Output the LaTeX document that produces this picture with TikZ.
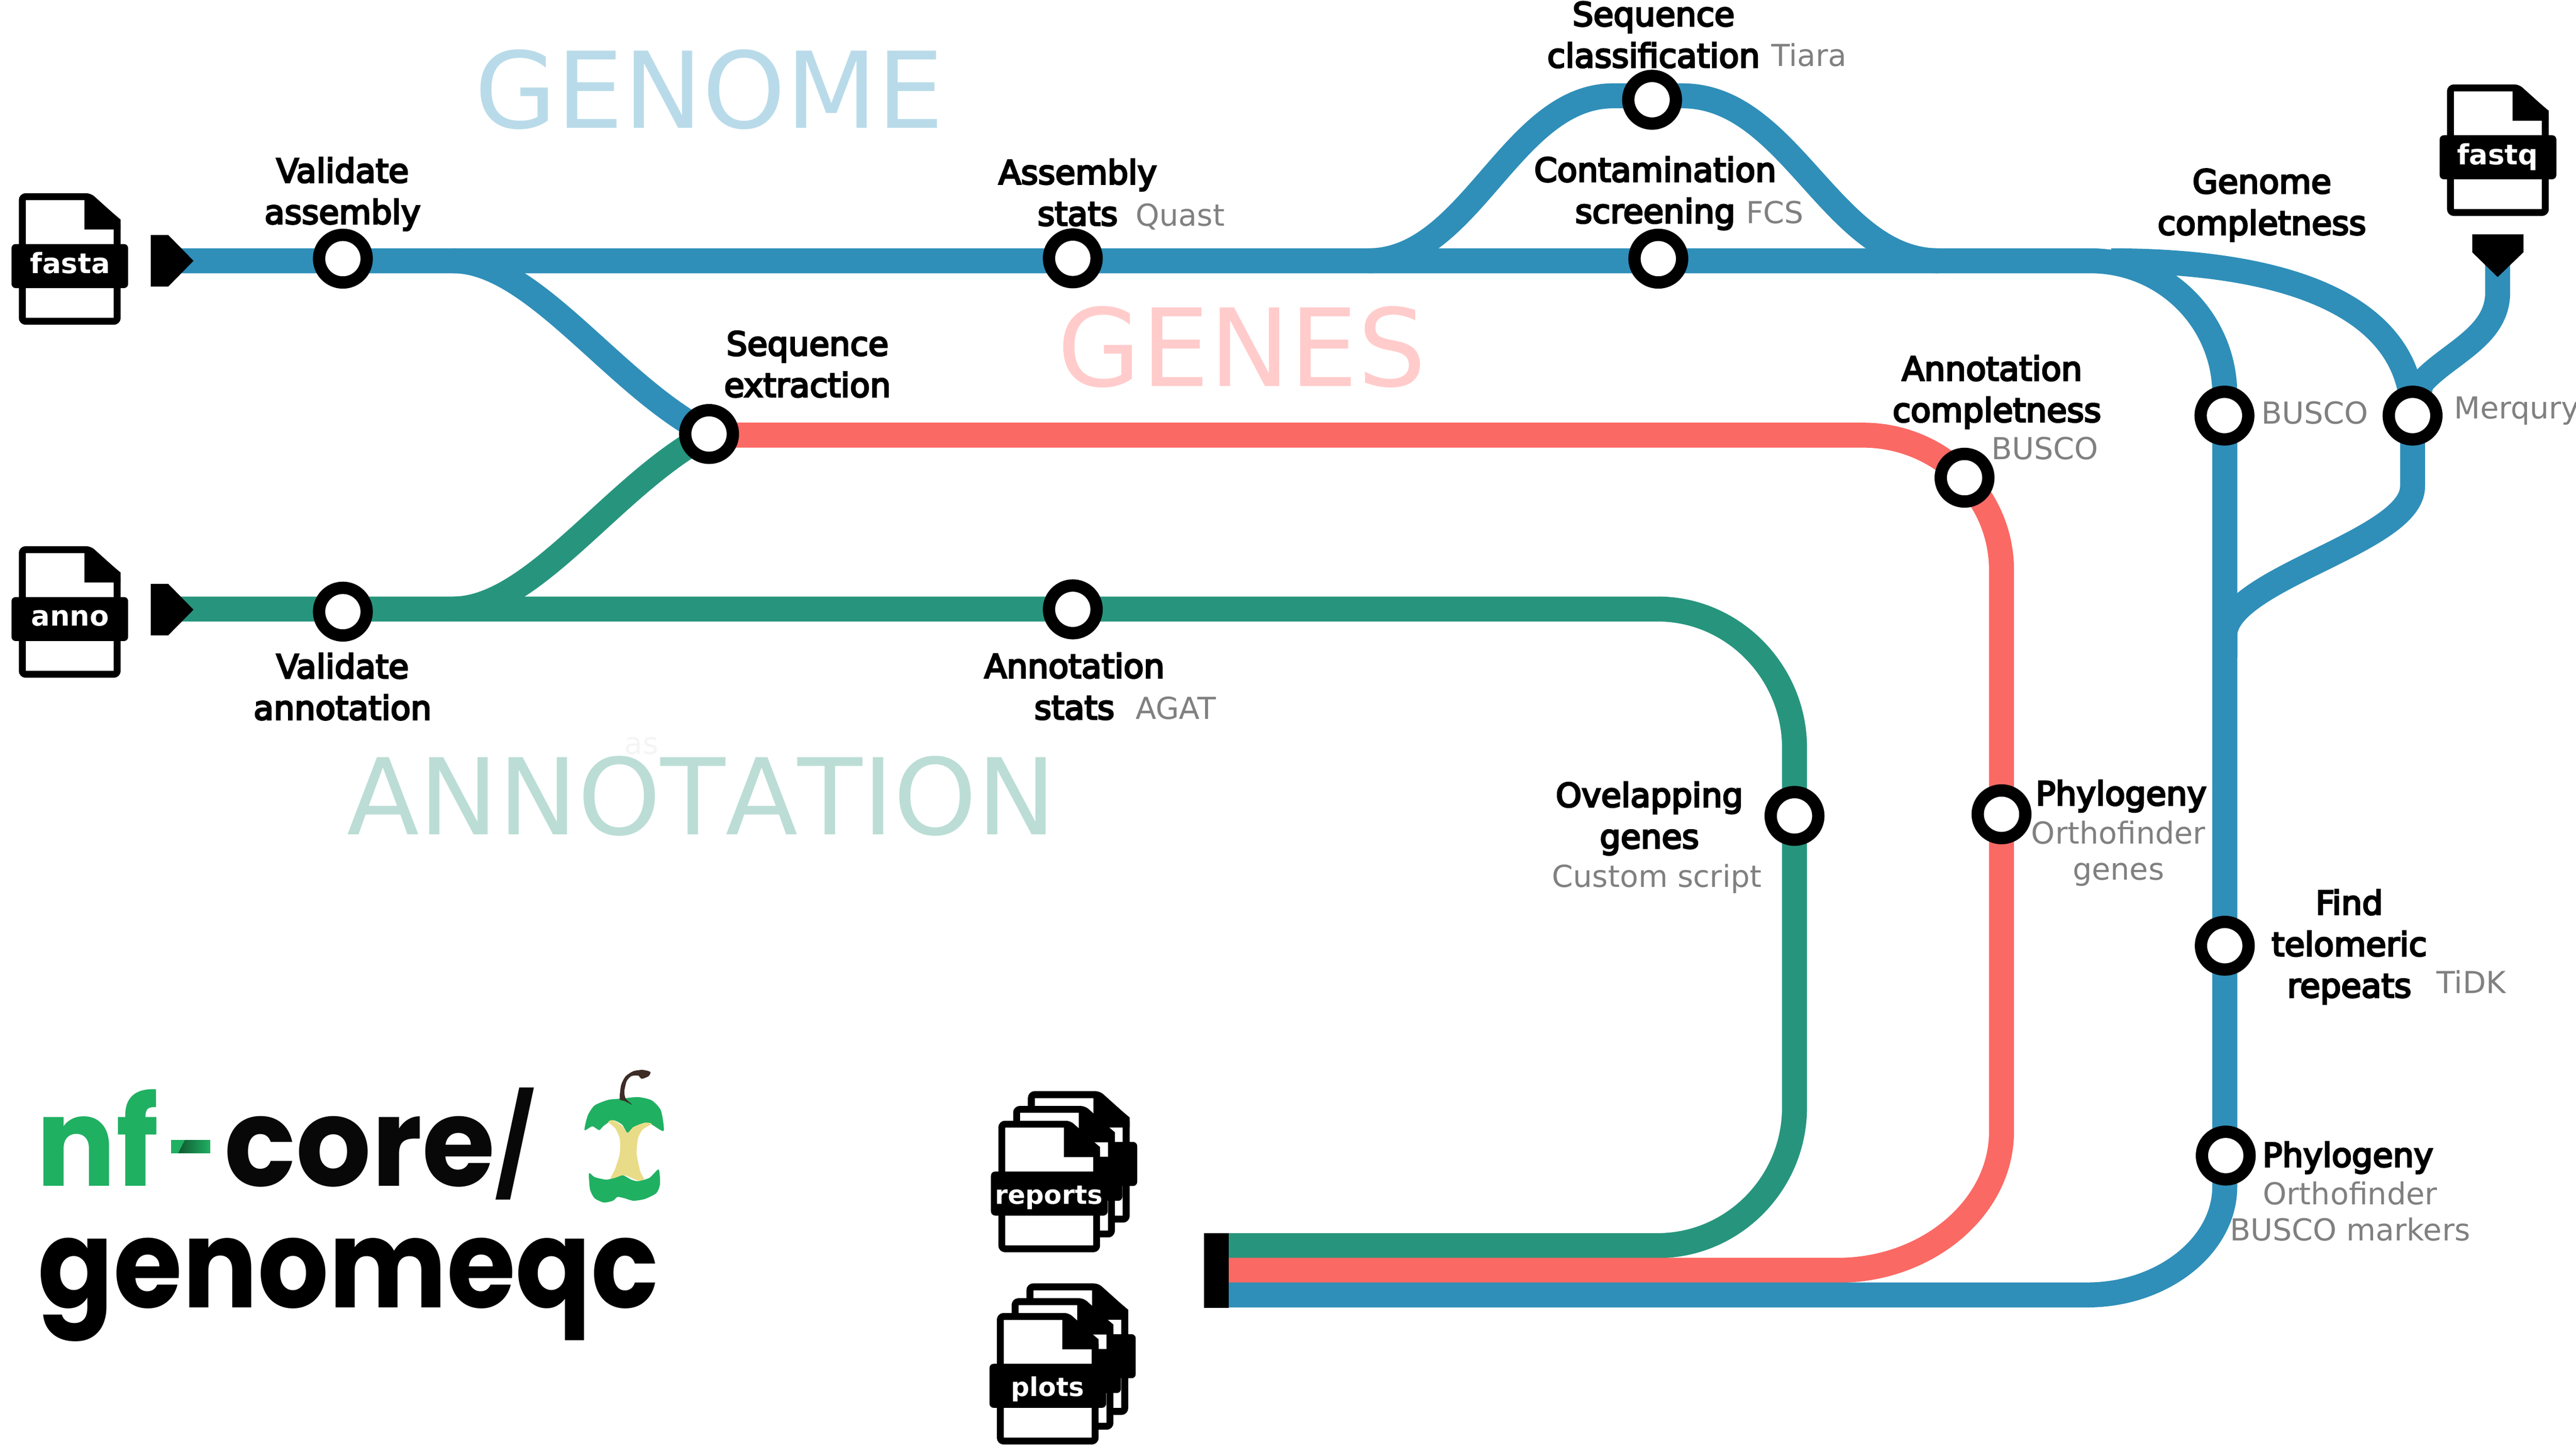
\documentclass[tikz,border=0pt]{standalone}
\usepackage{fontspec}
\usepackage{graphicx}
\usetikzlibrary{backgrounds}
\setmainfont{DejaVu Sans}
\newfontfamily\lblf[FakeBold=5]{DejaVu Sans}
\newfontfamily\bigf[Kerning=Off]{DejaVu Sans}
\newfontfamily\logof{Poppins}
\definecolor{tblue}{HTML}{2F8FB9}
\definecolor{tgreen}{HTML}{27957D}
\definecolor{tred}{HTML}{FB6964}
\definecolor{lblue}{HTML}{B9DBE9}
\definecolor{lgreen}{HTML}{BBDDD5}
\definecolor{lred}{HTML}{FFCCCB}
\definecolor{nfgreen}{HTML}{20B062}
\definecolor{corey}{HTML}{E9DC88}
\definecolor{stemc}{HTML}{3E2C27}
\tikzset{
  track/.style={line width=15.2pt,line cap=butt,line join=round},
  stn/.style={circle,draw=black,line width=7.5pt,fill=white,minimum size=29pt,inner sep=0pt},
  lbl/.style={anchor=base,align=center,inner sep=0pt,font=\lblf\fontsize{20}{25.2}\selectfont},
  tool/.style={anchor=base,align=center,inner sep=0pt,text=gray,font=\fontsize{18.4}{22}\selectfont},
  toolw/.style={tool,anchor=base west},
  lblw/.style={lbl,anchor=base west},
  bigt/.style={anchor=base,inner sep=0pt,font=\bigf\fontsize{64.4}{64}\selectfont},
  ftxt/.style={anchor=base,inner sep=0pt,text=white,font=\bfseries\fontsize{17}{17}\selectfont},
  mtxt/.style={ftxt,font=\bfseries\fontsize{15.8}{16}\selectfont},
  logot/.style={anchor=base west,inner sep=0pt,font=\logof\bfseries\fontsize{75}{75}\selectfont},
  pics/fileicon/.style={code={
    \filldraw[fill=white,draw=black,line width=4.2pt,rounded corners=2pt]
      (2.1,2.1) -- (43,2.1) -- (59.8,17.2) -- (59.8,77.9) -- (2.1,77.9) -- cycle;
    \fill[black] (39.9,2.1) -- (43.2,0.5) -- (61.9,16) -- (61.9,22.1) -- (39.9,22.1) -- cycle;
    \fill[black,rounded corners=2.5pt] (-4.5,30.9) rectangle (66.5,57.7);
  }}
}
\begin{document}
\begin{tikzpicture}[x=1pt,y=-1pt]
\useasboundingbox (0,0) rectangle (1568,879.2);

% stations
\node[stn] (vasm) at (208.7,157.4) {};
\node[stn] (vann) at (208.7,372.2) {};
\node[stn] (astat) at (653,157.2) {};
\node[stn] (anstat) at (653,370.8) {};
\node[stn] (seqx) at (431.6,264.1) {};
\node[stn] (seqc) at (1005.6,60.7) {};
\node[stn] (cont) at (1009.4,157.4) {};
\node[stn] (anncomp) at (1195.8,290.7) {};
\node[stn] (ovl) at (1092.3,496.5) {};
\node[stn] (phyg) at (1218.3,495.5) {};
\node[stn] (busco) at (1354,252.9) {};
\node[stn] (merq) at (1468.5,252.9) {};
\node[stn] (telo) at (1354.2,575.5) {};
\node[stn] (phyb) at (1354.8,703.2) {};

% named points of the tracks
\coordinate (fs) at (110,158.7);
\coordinate (as) at (110,370.6);
\coordinate (qs) at (1520.3,160);
\coordinate (eg) at (748,758);
\coordinate (er) at (748,773);
\coordinate (eb) at (748,788);
\coordinate (bj) at (1354.2,386.8);
\coordinate (j1) at (276,158.7);
\coordinate (j2) at (276,370.6);

\begin{pgfonlayer}{background}
% green
\draw[track,tgreen] (as) -- (j2) -- (1009,370.6) .. controls (1055,370.6) and (1092.3,409) .. (1092.3,455)
  -- (ovl.center) -- (1092.3,674) .. controls (1092.3,720) and (1055,758) .. (1009,758) -- (eg);
\draw[track,tgreen] (j2) .. controls (325,370.6) and (375,293) .. (seqx.center);
% red
\draw[track,tred] (seqx.center) -- (431.6,264.8) -- (1134,264.8) .. controls (1180,264.8) and (1218.3,301) .. (1218.3,347)
  -- (1218.3,688.6) .. controls (1218.3,735) and (1173,773) .. (1118.7,773) -- (er);
% blue
\draw[track,tblue] (fs) -- (1272.5,158.7) .. controls (1317.7,158.7) and (1354.2,195) .. (1354.2,240)
  -- (1354.2,722) .. controls (1354.2,758.3) and (1316,788) .. (1270.5,788) -- (eb);
\draw[track,tblue] (j1) .. controls (325,158.7) and (375,236) .. (seqx.center);
\draw[track,tblue] (833,158.7) .. controls (895,158.7) and (920,58.3) .. (982,58.3) -- (1024,58.3)
  .. controls (1090,58.3) and (1115,158.7) .. (1180,158.7);
\draw[track,tblue] (1285,158.7) .. controls (1400,158.7) and (1468.5,190) .. (merq.center)
  -- (1468.5,296) .. controls (1468.5,330) and (1354.2,352) .. (bj) -- (1354.2,400);
\draw[track,tblue] (qs) -- (1520.3,178) .. controls (1520.3,205) and (1490,215) .. (1474,233) -- (merq.center);
\end{pgfonlayer}

% start and end markers
\fill[black] (91.8,143) -- (102.4,143) -- (117.8,158.7) -- (102.4,174.4) -- (91.8,174.4) -- cycle;
\fill[black] (91.8,355.3) -- (102.4,355.3) -- (117.8,371) -- (102.4,386.6) -- (91.8,386.6) -- cycle;
\fill[black] (1504.8,142.6) -- (1536,142.6) -- (1536,153.5) -- (1520.3,168.6) -- (1504.8,153.5) -- cycle;
\fill[black] (733,750.5) rectangle (748,796);

% big titles
\node[bigt,text=lblue] (tgenome) at (431.8,78) {GENOME};
\node[bigt,text=lred,font=\bigf\fontsize{65.6}{64}\selectfont] (tgenes) at (756,235) {GENES};
\node[bigt,text=lgreen] (tanno) at (427,508) {ANNOTATION};
\node[anchor=base,inner sep=0pt,text=black!4,font=\fontsize{18.5}{20}\selectfont] (tas) at (390.5,459) {as};

% station labels (position = baseline of the last line)
\node[lbl] (lvasm) at (208.5,136.2) {Validate\\assembly};
\node[lbl] (lvann) at (208.5,437.9) {Validate\\annotation};
\node[lbl] (lastat) at (656,137.2) {Assembly\\stats};
\node[toolw] (tquast) at (691,137.6) {Quast};
\node[lbl] (lanstat) at (654,437.7) {Annotation\\stats};
\node[toolw] (tagat) at (691,437.5) {AGAT};
\node[lbl] (lseqx) at (491.5,241.5) {Sequence\\extraction};
\node[lbl] (lseqc) at (1006.5,41) {Sequence\\classification};
\node[toolw] (ttiara) at (1078,40.2) {Tiara};
\node[lbl] (lcont) at (1007.5,135.7) {Contamination\\screening};
\node[toolw] (tfcs) at (1062.6,135.8) {FCS};
\node[lbl] (lgcomp) at (1376.8,142.8) {Genome\\completness};
\node[toolw] (tbusco) at (1376.2,258) {BUSCO};
\node[toolw] (tmerq) at (1493.6,254.9) {Merqury};
\node[lbl] (lanncomp) at (1215.5,256.7) {Annotation\hspace*{6pt}\\completness};
\node[toolw] (tabusco) at (1212,279.7) {BUSCO};
\node[lbl] (lovl) at (1004,516.2) {Ovelapping\\genes};
\node[tool] (tcust) at (1008.6,540) {Custom script};
\node[lblw] (lphyg) at (1239,490) {Phylogeny};
\node[tool] (tphyg) at (1289.5,535.5) {Orthofinder\\genes};
\node[lbl] (ltelo) at (1430,606.9) {Find\\telomeric\\repeats};
\node[toolw] (ttidk) at (1483,604.6) {TiDK};
\node[lblw] (lphyb) at (1377,710) {Phylogeny};
\node[tool] (tphyb) at (1430.5,755) {Orthofinder\\BUSCO markers};

% file icons
\pic at (11.5,117.6) {fileicon};
\node[ftxt] (ffasta) at (42.7,166.3) {fasta};
\pic at (11.5,332.4) {fileicon};
\node[ftxt] (fanno) at (42.7,381) {anno};
\pic at (1489.5,51.4) {fileicon};
\node[ftxt] (ffastq) at (1520.3,100.2) {fastq};
\foreach \d in {18,9,0}{\pic at ({607.7+\d},{682-\d}) {fileicon};}
\node[mtxt] (freports) at (638.5,732.8) {reports};
\foreach \d in {18,9,0}{\pic at ({606.8+\d},{799-\d}) {fileicon};}
\node[mtxt] (fplots) at (637.6,849.7) {plots};

% logo
\node[logot,text=nfgreen] (lnf) at (22,721.7) {\scalebox{0.96}[1]{nf}};
\node[logot,text=black!97] (lcore) at (136.5,721.7) {\scalebox{0.96}[1]{core}\raisebox{2.7pt}{\scalebox{0.72}[0.8]{/}}};
\node[logot,text=black] (lgq) at (23,795.8) {\scalebox{0.905}[1]{genomeqc}};
\fill[nfgreen] (104,693.7) rectangle (128,701.7);
\shade[left color=nfgreen!50!black,right color=nfgreen] (112.5,693.7) -- (128,693.7) -- (128,701.7) -- (108.5,701.7) -- cycle;
% apple
\begin{scope}[shift={(0,606.2)},xscale=.2784,yscale=.15464]
\fill[nfgreen] plot[smooth cycle,tension=.4] coordinates {(1278,527) (1285,470) (1300,430) (1330,408) (1360,403) (1395,397) (1425,410) (1445,450) (1451,530) (1425,505) (1410,498) (1385,515) (1372,538) (1360,505) (1340,488) (1320,510) (1310,527) (1295,512)};
\fill[corey] plot[smooth cycle,tension=.4] coordinates {(1330,495) (1340,488) (1360,510) (1372,538) (1385,515) (1410,498) (1425,502) (1405,525) (1395,560) (1392,620) (1400,690) (1408,720) (1395,726) (1365,705) (1335,720) (1345,680) (1355,620) (1355,560) (1345,520)};
\fill[nfgreen] plot[smooth cycle,tension=.4] coordinates {(1288,697) (1300,712) (1325,722) (1345,715) (1362,705) (1380,722) (1395,728) (1420,715) (1440,682) (1443,740) (1435,775) (1410,798) (1385,805) (1365,795) (1350,790) (1340,805) (1320,812) (1300,795) (1290,760)};
\fill[stemc] plot[smooth cycle,tension=.4] coordinates {(1355,405) (1358,350) (1368,315) (1385,295) (1405,290) (1422,298) (1418,315) (1403,325) (1395,312) (1380,315) (1370,335) (1365,375) (1368,403) (1382,427) (1365,412)};
\end{scope}
\end{tikzpicture}
\end{document}
